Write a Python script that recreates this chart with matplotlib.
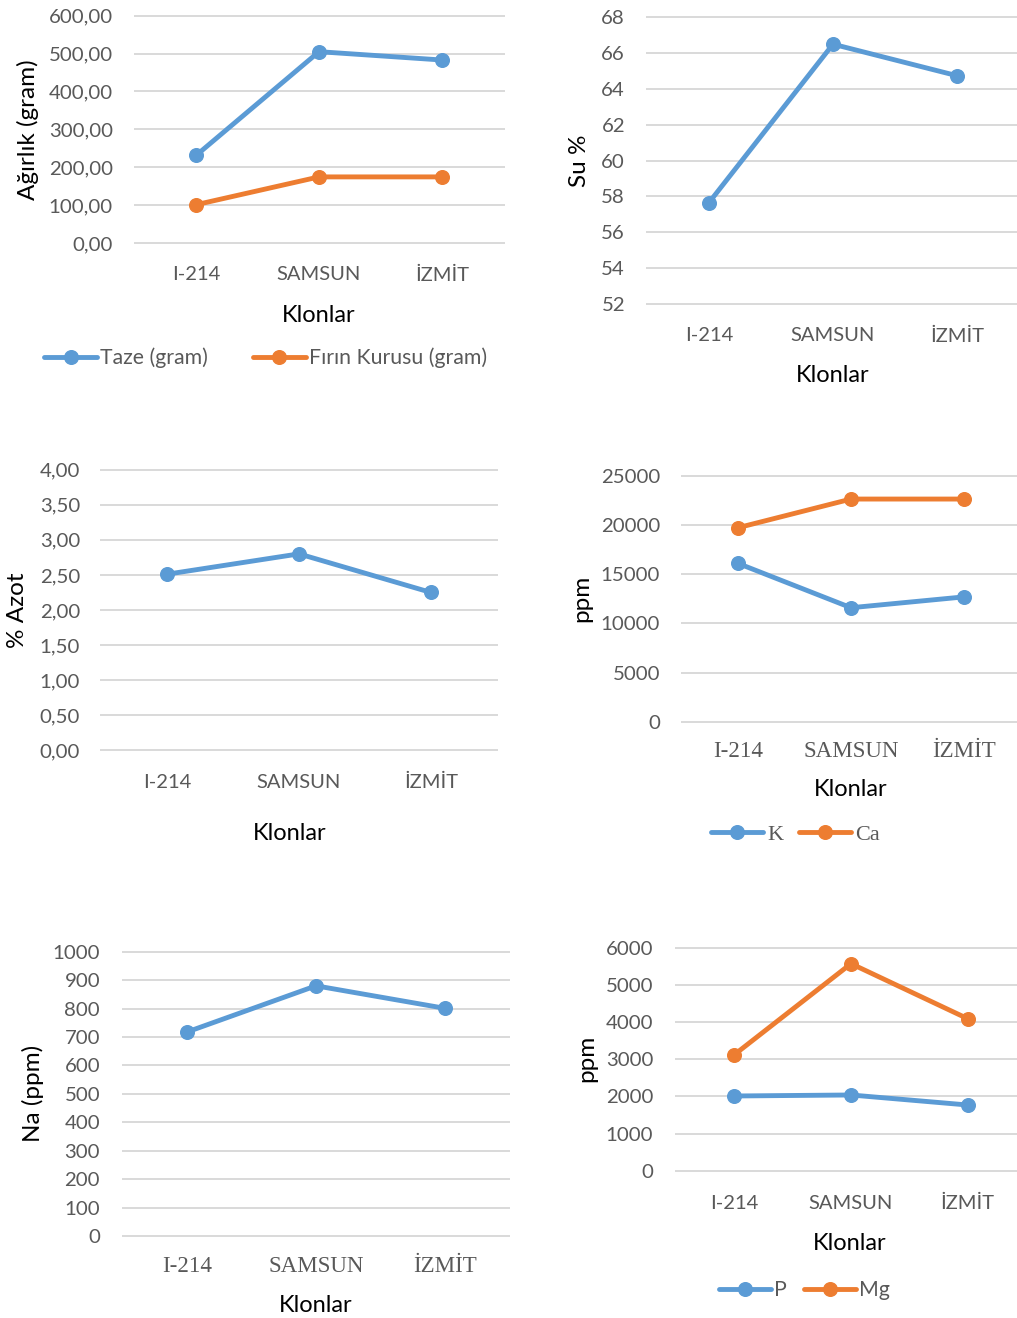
import matplotlib.pyplot as plt

W, H = 1017, 1318
SANS = 'Lato'
SERIF = 'Liberation Serif'
BLUE = '#5B9BD5'
ORANGE = '#ED7D31'
GREY = '#595959'
GRID = '#D9D9D9'

plt.rcParams['font.family'] = SANS

# clone names shared by every panel
clones = ['I-214', 'SAMSUN', 'İZMİT']

# weight (gram)
taze = [231, 505, 483]
firin_kurusu = [101, 174.5, 174.5]
# water %
su = [57.66, 66.5, 64.74]
# nitrogen %
azot = [2.51, 2.80, 2.25]
# K / Ca (ppm)
potasyum = [16100, 11600, 12700]
kalsiyum = [19720, 22630, 22630]
# Na (ppm)
sodyum = [718, 880, 801]
# P / Mg (ppm)
fosfor = [2013, 2040, 1770]
magnezyum = [3126, 5578, 4096]


def fig_xy(x, y):
    """Pixel position -> figure fraction."""
    return x / W, 1 - y / H


def add_panel(fig, left, top, right, bottom):
    return fig.add_axes([left / W, 1 - bottom / H,
                         (right - left) / W, (bottom - top) / H])


def style_panel(ax, yticks, ylabels, xfamily=SANS, xsize=14.5,
                ypad=15.5, xpad=23):
    ax.set_xlim(-0.5, len(clones) - 0.5)
    ax.set_ylim(yticks[0], yticks[-1])
    ax.set_yticks(yticks, ylabels)
    for s in ax.spines.values():
        s.set_visible(False)
    ax.tick_params(axis='y', length=0, pad=ypad, labelsize=14.7,
                   labelcolor=GREY)
    ax.tick_params(axis='x', length=0, pad=xpad, labelsize=xsize,
                   labelcolor=GREY, labelfontfamily=xfamily)
    plt.setp(ax.get_xticklabels(), va='center')
    ax.grid(axis='y', color=GRID, lw=1.4)
    ax.grid(axis='x', visible=False)
    ax.set_axisbelow(True)
    for gl in ax.get_ygridlines():
        gl.set_clip_on(False)


def add_line(ax, values, color, label=None):
    ax.plot(clones, values, color=color, lw=3.5, marker='o', ms=9.8,
            solid_joinstyle='round', solid_capstyle='round',
            clip_on=False, label=label)


def set_labels(fig, ax, ylabel, xlab_xy, ylab_xy):
    ax.set_xlabel('Klonlar', fontsize=17, color='black')
    ax.xaxis.set_label_coords(*fig_xy(*xlab_xy), transform=fig.transFigure)
    ax.xaxis.label.set_va('center')
    ax.set_ylabel(ylabel, fontsize=17.5, color='black')
    ax.yaxis.set_label_coords(*fig_xy(*ylab_xy), transform=fig.transFigure)
    ax.yaxis.label.set_va('center')
    ax.yaxis.label.set_ha('center')


def add_legend(fig, ax, xy, family, size, handlelength, textpad, colspace):
    ax.legend(loc='center left', bbox_to_anchor=fig_xy(*xy),
              bbox_transform=fig.transFigure, ncol=2, frameon=False,
              borderpad=0, borderaxespad=0, handlelength=handlelength,
              handletextpad=textpad, columnspacing=colspace,
              prop={'family': family, 'size': size}, labelcolor=GREY)


def comma(v, nd):
    return f"{v:.{nd}f}".replace('.', ',')


fig = plt.figure(figsize=(W / 100, H / 100), dpi=100)

# weight
ax1 = add_panel(fig, 134.5, 15.7, 503.5, 243)
add_line(ax1, taze, BLUE, 'Taze (gram)')
add_line(ax1, firin_kurusu, ORANGE, 'Fırın Kurusu (gram)')
yt = list(range(0, 601, 100))
style_panel(ax1, yt, [comma(v, 2) for v in yt])
set_labels(fig, ax1, 'Ağırlık (gram)', (319, 315), (28, 130))
add_legend(fig, ax1, (44, 358), SANS, 15.3, 2.5, 0.15, 2.1)

# water
ax2 = add_panel(fig, 647, 17.3, 1019, 304)
add_line(ax2, su, BLUE)
yt = list(range(52, 69, 2))
style_panel(ax2, yt, [str(v) for v in yt], ypad=15.8)
set_labels(fig, ax2, 'Su %', (833, 375), (580, 161))

# nitrogen
ax3 = add_panel(fig, 101, 469.7, 497, 750.3)
add_line(ax3, azot, BLUE)
yt = [i * 0.5 for i in range(9)]
style_panel(ax3, yt, [comma(v, 2) for v in yt], ypad=15, xpad=23.3)
set_labels(fig, ax3, '% Azot', (290, 834), (17, 610))

# K and Ca
ax4 = add_panel(fig, 681.5, 475.7, 1020.5, 722)
add_line(ax4, potasyum, BLUE, 'K')
add_line(ax4, kalsiyum, ORANGE, 'Ca')
yt = list(range(0, 25001, 5000))
style_panel(ax4, yt, [str(v) for v in yt], xfamily=SERIF, xsize=16.6,
            xpad=21.6)
set_labels(fig, ax4, 'ppm', (851, 790), (582, 598))
add_legend(fig, ax4, (711, 835), SERIF, 16, 2.35, 0.18, 0.7)

# Na
ax5 = add_panel(fig, 123, 951.7, 509, 1236)
add_line(ax5, sodyum, BLUE)
yt = list(range(0, 1001, 100))
style_panel(ax5, yt, [str(v) for v in yt], xfamily=SERIF, xsize=16.6,
            ypad=16.5, xpad=22.3)
set_labels(fig, ax5, 'Na (ppm)', (316, 1305), (33, 1093))

# P and Mg
ax6 = add_panel(fig, 676, 948, 1026, 1170.7)
add_line(ax6, fosfor, BLUE, 'P')
add_line(ax6, magnezyum, ORANGE, 'Mg')
yt = list(range(0, 6001, 1000))
style_panel(ax6, yt, [str(v) for v in yt], ypad=16.5, xpad=23.7)
set_labels(fig, ax6, 'ppm', (850, 1243), (587, 1058))
add_legend(fig, ax6, (719, 1290), SANS, 15.3, 2.45, 0.15, 0.8)

fig.savefig('out.png', dpi=100)
